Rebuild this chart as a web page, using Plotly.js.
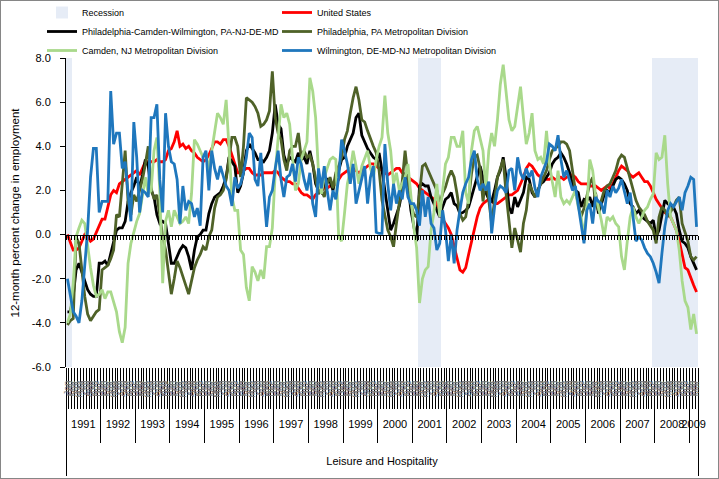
<!DOCTYPE html>
<html><head><meta charset="utf-8">
<script src="https://cdn.plot.ly/plotly-3.0.1.min.js"></script>
<style>
html,body{margin:0;padding:0;background:#fff;}
#chart{width:717px;height:477px;border:1px solid #868686;}
</style></head><body><div id="chart"></div>
<script>
// ---------------- data ----------------
const firstYear = 1991;             // series start: Jan 1991
const monthNames = ['Jan','Feb','Mar','Apr','May','Jun','Jul','Aug','Sep','Oct','Nov','Dec'];
const recessionStart = ['1991-01','2001-03','2007-12'];
const recessionEnd   = ['1991-02','2001-10','2009-03'];
const categoryLabel = 'Leisure and Hospitality';

const seriesNames = ['United States','Philadelphia-Camden-Wilmington, PA-NJ-DE-MD','Philadelphia, PA Metropolitan Division','Camden, NJ Metropolitan Division','Wilmington, DE-MD-NJ Metropolitan Division'];

const us = [
 0.0,-0.4,-0.7,-0.7,-0.6,-0.3,0.0,-0.1,-0.3,-0.2,0.1,0.4,
 0.7,0.7,1.2,1.8,2.0,1.9,2.3,2.4,2.5,2.6,2.7,2.8,
 2.9,2.7,3.0,3.3,3.3,3.3,3.3,3.4,3.3,3.3,3.4,3.8,
 3.9,4.2,4.7,4.0,4.1,3.9,4.0,3.8,3.7,3.5,3.4,3.3,
 3.4,3.6,3.9,4.2,4.2,4.1,4.3,4.3,4.0,3.6,3.1,2.8,
 2.8,2.9,3.0,3.0,2.8,2.7,2.7,2.7,2.8,2.8,2.8,2.8,
 2.9,2.8,2.6,2.5,2.4,2.4,2.3,2.3,2.1,1.9,1.8,1.8,
 1.7,1.6,1.8,1.9,2.0,2.1,2.1,2.2,2.2,2.3,2.5,2.7,
 2.8,2.9,3.0,3.0,2.9,2.8,2.9,3.0,3.1,3.2,3.2,3.1,
 3.0,2.9,2.8,2.7,2.8,2.9,3.0,3.0,2.8,2.7,2.6,2.5,
 2.4,2.3,2.1,2.0,1.9,1.8,1.7,1.6,1.4,1.0,0.7,0.5,
 0.3,0.0,-0.5,-1.1,-1.6,-1.7,-1.5,-0.9,-0.3,0.3,0.8,1.2,
 1.4,1.5,1.6,1.5,1.4,1.4,1.5,1.6,1.7,1.8,1.8,1.9,
 2.0,2.3,2.6,3.0,3.2,3.1,2.9,2.7,2.6,2.6,2.5,2.5,
 2.6,2.5,2.5,2.6,2.5,2.6,2.7,2.7,2.6,2.4,2.3,2.3,
 2.3,2.2,2.2,2.2,2.1,2.0,2.1,2.2,2.1,2.3,2.6,2.9,
 3.1,3.0,2.9,2.7,2.6,2.7,2.8,2.6,2.4,2.4,2.2,1.9,
 1.6,1.4,1.2,1.0,0.9,0.8,0.5,0.2,-0.3,-0.9,-1.5,-1.6,
 -2.0,-2.3,-2.6];

const pcw = [
 -3.5,-3.5,-2.8,-1.6,-1.3,-1.7,-2.1,-2.5,-2.7,-2.8,-2.8,-1.3,
 -1.3,-1.2,-1.4,-0.9,-0.3,0.2,0.3,0.3,0.6,1.5,1.9,2.2,
 2.6,2.1,2.7,3.4,3.1,2.0,1.7,0.9,0.5,0.6,0.5,-0.3,
 -1.3,-1.3,-1.0,-0.7,-0.5,-0.6,-1.0,-1.6,-0.7,-0.1,0.0,0.2,
 0.2,0.95,1.4,1.7,1.8,1.9,2.2,2.6,3.5,3.3,3.1,1.9,
 2.2,2.8,3.8,4.1,3.9,3.7,3.4,3.4,3.3,3.5,3.8,4.6,
 5.9,5.0,4.8,3.6,3.2,3.5,3.4,3.3,3.7,3.4,3.5,3.2,
 3.8,3.2,2.3,2.0,1.9,2.3,2.5,2.4,2.0,2.6,2.9,3.4,
 3.5,4.0,4.3,4.6,5.3,5.5,4.5,4.2,3.9,3.7,3.5,3.4,
 3.7,2.9,2.0,1.2,0.2,0.5,0.9,1.3,2.0,2.8,2.3,1.1,
 0.4,-0.3,2.2,2.3,2.2,2.2,1.7,1.4,1.1,0.8,1.25,1.6,
 1.7,1.9,1.4,1.3,0.95,1.0,1.1,1.25,1.7,2.2,2.6,3.1,
 2.6,1.9,1.6,1.5,2.0,2.6,2.9,3.5,2.6,1.25,0.95,1.7,
 1.25,1.6,1.9,2.6,2.5,1.9,1.7,2.0,2.3,2.4,2.6,2.8,
 3.2,3.4,3.5,3.7,3.5,3.2,2.8,2.3,2.0,1.9,1.25,1.6,
 1.55,1.7,1.25,1.9,0.95,1.4,1.8,2.0,1.9,2.2,2.5,2.6,
 2.5,2.3,2.0,1.4,1.25,0.95,1.1,0.8,0.7,0.6,0.5,0.65,
 -0.1,0.2,0.8,1.55,1.4,1.3,1.25,0.95,0.2,-0.3,-0.4,-0.6,
 -1.0,-1.3,-1.6];

const phila = [
 -4.1,-3.9,-3.8,-0.1,-0.4,-1.6,-2.8,-3.6,-3.9,-3.7,-3.5,-3.4,
 -1.6,-1.5,-1.4,-1.1,-0.7,0.9,0.8,2.3,3.8,1.5,0.9,1.8,
 1.5,2.0,2.5,3.2,4.0,2.1,1.6,1.8,0.8,-0.1,-0.7,-1.8,
 -2.7,-2.0,-1.2,-1.5,-1.9,-2.2,-2.7,-2.1,-1.5,-1.15,-0.9,-0.55,
 -0.7,-0.1,0.2,1.2,1.7,1.8,2.0,2.5,3.5,4.4,4.4,4.0,
 2.6,4.0,6.2,6.1,6.0,5.8,5.5,4.9,5.0,5.2,5.6,7.4,
 5.3,4.6,4.3,3.4,2.9,3.8,4.0,4.0,4.6,3.5,3.8,3.5,
 3.6,3.2,2.6,1.85,2.0,1.7,2.3,2.6,2.1,2.8,3.1,3.5,
 4.3,4.7,5.5,6.2,6.7,6.1,5.2,5.1,4.7,4.3,4.0,3.7,
 2.9,1.55,0.8,0.2,-0.1,-0.55,0.5,1.55,2.4,3.8,2.6,1.4,
 0.9,0.8,1.85,3.1,3.2,2.9,2.6,2.3,2.0,1.4,1.85,2.15,
 2.6,2.9,2.6,1.85,0.95,0.65,0.8,1.55,2.75,3.5,3.6,3.0,
 1.5,2.6,1.55,0.5,1.55,2.6,3.0,3.4,1.85,0.5,-0.6,0.3,
 -0.3,-0.8,0.5,1.1,2.3,2.0,1.7,2.0,2.3,2.6,2.9,3.4,
 3.8,3.9,4.0,4.2,4.2,4.1,3.8,2.9,2.0,1.4,0.8,1.2,
 1.7,2.3,2.6,1.4,1.1,1.55,2.0,2.2,2.3,2.6,2.9,3.4,
 3.6,3.5,3.0,2.6,2.0,1.55,1.25,1.1,0.9,0.6,0.4,0.2,
 -0.4,0.8,1.25,1.1,0.8,1.0,1.25,1.55,1.7,0.5,0.05,-0.3,
 -1.0,-1.15,-1.0];

const camden = [
 -4.0,-3.6,-2.2,-0.1,0.3,0.65,0.5,-0.6,-1.5,-2.3,-2.8,-2.7,
 -2.5,-2.9,-2.6,-2.6,-3.0,-3.5,-4.4,-4.9,-4.2,-1.3,-0.4,0.1,
 0.6,0.95,1.85,2.6,1.85,2.0,3.8,4.4,2.0,-2.2,0.6,1.1,
 0.35,1.1,0.8,0.5,0.6,0.8,0.5,1.85,4.3,4.1,3.8,3.5,
 3.7,2.9,3.8,4.7,5.5,5.3,5.0,6.1,4.1,1.7,1.1,1.1,
 -0.7,-0.9,-2.4,-3.0,-1.45,-1.7,-2.1,-1.6,-2.0,-0.55,-0.55,0.3,
 2.8,4.5,5.9,5.3,5.5,5.0,3.4,2.0,2.3,3.4,3.8,4.2,
 7.1,6.5,5.3,2.8,1.85,2.6,3.0,3.4,3.5,3.4,-0.1,-0.3,
 0.95,2.3,2.9,3.8,3.1,2.3,3.1,3.5,3.8,3.0,2.6,3.4,
 4.0,4.4,6.3,4.6,3.8,2.3,2.8,2.0,2.3,2.6,3.2,1.7,
 0.35,-0.6,-3.1,-2.0,-1.6,-1.45,0.2,1.0,2.3,0.8,2.0,3.2,
 3.5,4.4,4.4,4.0,4.0,4.7,1.9,1.4,3.8,4.7,4.9,4.3,
 3.8,2.0,3.8,4.6,4.0,5.2,6.8,7.7,6.5,5.2,4.7,4.9,
 5.8,6.7,5.3,4.1,4.6,5.5,3.8,3.4,3.5,3.2,4.7,3.2,
 2.4,1.7,2.9,1.7,1.4,1.55,1.4,1.7,2.0,1.25,0.8,-0.1,
 1.25,3.4,2.9,1.8,1.25,0.65,-0.1,0.8,0.65,0.8,0.5,0.35,
 -1.0,-1.6,-0.3,0.8,1.25,0.8,0.5,0.8,1.1,1.25,1.6,1.85,
 3.7,3.4,3.5,4.5,2.3,0.8,0.5,0.2,-0.7,-2.1,-3.0,-3.3,
 -4.3,-3.6,-4.5];

const wilmington = [
 -2.0,-2.8,-3.5,-3.7,-4.0,-3.0,-1.5,0.2,2.6,3.9,3.9,1.0,
 1.5,1.5,1.5,6.5,4.1,4.6,4.6,3.0,3.3,1.9,0.6,5.1,
 3.5,1.0,2.0,1.9,1.7,5.3,5.3,5.9,2.5,1.0,5.5,4.0,
 3.3,3.2,2.5,0.5,2.2,1.1,1.5,1.4,0.8,1.2,0.4,3.5,
 3.8,2.0,3.8,3.0,2.5,3.1,2.6,2.2,2.0,1.3,2.6,2.1,
 2.3,2.8,3.5,4.6,4.4,2.5,2.2,3.7,2.0,0.35,1.7,2.0,
 3.0,3.8,2.5,1.7,2.6,2.7,3.2,2.4,3.5,3.2,2.5,2.0,
 2.8,1.4,0.8,3.0,2.1,3.1,2.0,1.1,2.0,1.6,2.6,4.3,
 3.8,3.2,2.3,3.2,1.4,2.0,2.6,3.1,1.4,2.6,3.1,0.1,
 0.05,0.05,4.1,2.3,1.1,2.3,1.4,2.0,1.6,2.6,1.7,1.4,
 1.4,1.1,0.4,2.0,0.8,1.7,0.5,0.3,-0.7,-0.4,1.1,0.2,
 -1.2,0.0,-1.3,0.2,1.1,1.9,2.3,2.6,3.4,3.8,2.5,2.0,
 2.3,2.0,2.4,0.05,1.25,2.0,2.2,2.1,1.9,2.9,3.0,2.0,
 3.5,2.8,2.5,3.0,2.6,2.9,2.1,1.7,2.6,3.0,3.3,4.1,
 4.0,3.8,4.5,3.4,2.6,2.9,2.5,2.0,2.2,1.25,0.5,-0.4,
 1.1,1.4,0.5,1.7,1.5,1.4,0.95,2.0,1.7,2.2,1.9,2.1,
 2.5,2.0,1.4,1.9,0.8,-0.3,-0.1,-0.25,-0.6,-0.85,-1.0,-1.3,
 -1.7,-2.2,-0.85,0.35,1.1,1.4,1.25,1.5,1.7,1.1,1.9,2.2,
 2.6,2.5,0.35];

const yRange = [-6, 8];
const yTickValues = [-6,-4,-2,0,2,4,6,8];
const yTitle = '12-month percent change in employment';

// ---------------- derived ----------------
const n = us.length;
const idx = Array.from({length:n},(_,i)=>i);
const monthKey = i => { const y = firstYear + Math.floor(i/12); const m = i%12+1; return y+'-'+(m<10?'0':'')+m; };
const keys = idx.map(monthKey);
const recX = [];
idx.forEach(i=>{
  const k = keys[i];
  for (let r=0;r<recessionStart.length;r++){
    if (k>=recessionStart[r] && k<=recessionEnd[r]) { recX.push(i); break; }
  }
});
const monthBounds = Array.from({length:n+1},(_,i)=>i-0.5);
const monthText = idx.map(i=>monthNames[i%12]);
const years = [], yearCenters = [], yearBounds = [];
for (let s=0; s<n; s+=12){
  const e = Math.min(s+11, n-1);
  years.push(String(firstYear + s/12));
  yearCenters.push((s+e)/2);
  yearBounds.push(s-0.5);
}
yearBounds.push(n-0.5);

const colors = ['#FF0000','#000000','#4F6228','#A9D98B','#1F77BD'];
const series = [us,pcw,phila,camden,wilmington];
const legendOf = ['legend2','legend','legend2','legend','legend2'];

const FONT = 'Liberation Sans, Arial, sans-serif';
const traces = [{
  type:'bar', name:'Recession', legend:'legend', x:recX, y:recX.map(()=>yRange[1]-yRange[0]), base:yRange[0],
  width:1, marker:{color:'#E6ECF6', line:{width:0}}, hoverinfo:'skip'
}];
series.forEach((s,k)=>traces.push({
  type:'scatter', mode:'lines', name:seriesNames[k], legend:legendOf[k], x:idx, y:s,
  line:{color:colors[k], width:2.8}, hoverinfo:'skip'
}));

const W = 717, H = 477;
const xr = [-0.5, n-0.5];
const yDomB = 0.2572;
const legendBase = {orientation:'v', xref:'container', yref:'container', xanchor:'left', yanchor:'middle',
  y:1-30.5/H, font:{size:9, family:FONT}, bgcolor:'rgba(0,0,0,0)', traceorder:'normal', borderwidth:0};
const layout = {
  width:W, height:H,
  margin:{l:65, r:20, t:57, b:4, autoexpand:false},
  paper_bgcolor:'#fff', plot_bgcolor:'#fff',
  font:{family:FONT, color:'#000', size:11},
  showlegend:true,
  legend:Object.assign({}, legendBase, {x:41/W}),
  legend2:Object.assign({}, legendBase, {x:276/W}),
  xaxis:{range:xr, anchor:'free', position:0.5755, showline:true, linecolor:'#000', linewidth:1,
    ticks:'outside', ticklen:4, tickcolor:'#000', tickwidth:1, tickmode:'array', tickvals:monthBounds,
    showticklabels:false, showgrid:false, zeroline:false, fixedrange:true},
  xaxis2:{range:xr, overlaying:'x', anchor:'free', position:yDomB, showline:false, showgrid:false, zeroline:false,
    tickmode:'array', tickvals:idx, ticktext:monthText, ticks:'', tickangle:-90,
    tickfont:{size:9, color:'#777', family:FONT}, ticklabelstandoff:11,
    minor:{tickmode:'array', tickvals:monthBounds, ticks:'outside', ticklen:41, tickcolor:'#000', tickwidth:1, showgrid:false}},
  xaxis3:{range:xr, overlaying:'x', anchor:'free', position:0.1587, showline:false, showgrid:false, zeroline:false,
    tickmode:'array', tickvals:yearCenters, ticktext:years, ticks:'', tickangle:0, tickfont:{size:11, family:FONT}, ticklabelstandoff:8,
    minor:{tickmode:'array', tickvals:yearBounds, ticks:'outside', ticklen:34, tickcolor:'#000', tickwidth:1, showgrid:false}},
  xaxis4:{range:xr, overlaying:'x', anchor:'free', position:0.1587, showline:false, showgrid:false, zeroline:false,
    tickmode:'array', tickvals:[(n-1)/2], ticktext:[categoryLabel], ticks:'', tickangle:0, tickfont:{size:11, family:FONT}, ticklabelstandoff:45,
    minor:{tickmode:'array', tickvals:xr, ticks:'outside', ticklen:67, tickcolor:'#000', tickwidth:1, showgrid:false}},
  yaxis:{domain:[yDomB,1], range:yRange, tickmode:'array', tickvals:yTickValues, ticktext:yTickValues.map(v=>v.toFixed(1)),
    ticks:'outside', ticklen:5, tickcolor:'#000', showline:true, linecolor:'#000', linewidth:1, showgrid:false, zeroline:false,
    tickfont:{size:11, family:FONT}, ticklabelstandoff:7},
  annotations:[{text:yTitle, textangle:-90, xref:'paper', yref:'paper', x:-51/632, y:yDomB+(1-yDomB)/2,
    xanchor:'center', yanchor:'middle', showarrow:false, font:{size:11.5, family:FONT, color:'#000'}}],
  bargap:0
};
// dummy traces so the overlay x axes are drawn
['x2','x3','x4'].forEach(ax=>traces.push({type:'scatter', mode:'none', x:xr, y:[null,null], xaxis:ax, yaxis:'y', showlegend:false, hoverinfo:'skip'}));

Plotly.newPlot('chart', traces, layout, {staticPlot:true, displayModeBar:false});
</script></body></html>
